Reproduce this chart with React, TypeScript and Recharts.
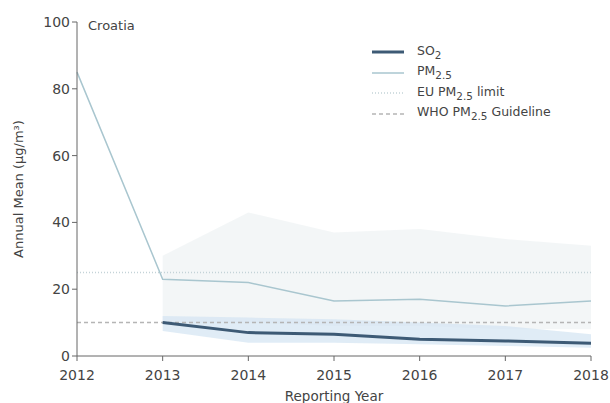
import React from 'react';
import {
  ComposedChart,
  Line,
  Area,
  XAxis,
  YAxis,
  ReferenceLine,
  Label,
} from 'recharts';

const years = [2012, 2013, 2014, 2015, 2016, 2017, 2018];
const so2 = [null, 10, 7, 6.5, 5, 4.5, 3.8];
const so2Low = [null, 7.5, 4, 4, 3.5, 3, 2.5];
const so2High = [null, 12, 11.5, 11, 10, 9, 6.5];
const pm25 = [85, 23, 22, 16.5, 17, 15, 16.5];
const pmLow = [null, 10, 10, 9, 9, 8, 8];
const pmHigh = [null, 30, 43, 37, 38, 35, 33];
const yTicks = [0, 20, 40, 60, 80, 100];
const euLimit = 25;
const whoGuideline = 10;

const data = years.map((year, i) => ({
  year,
  so2: so2[i],
  pm25: pm25[i],
  so2Band: so2Low[i] == null ? null : [so2Low[i], so2High[i]],
  pmBand: pmLow[i] == null ? null : [pmLow[i], pmHigh[i]],
}));

const font = 'DejaVu Sans, sans-serif';
const textColor = '#444';

function LegendBox() {
  const rows = [
    { label: <>SO<sub>2</sub></>, stroke: '#3d5a75', width: 3, dash: undefined },
    { label: <>PM<sub>2.5</sub></>, stroke: '#a9c6cf', width: 1.5, dash: undefined },
    { label: <>EU PM<sub>2.5</sub> limit</>, stroke: '#c4d3d8', width: 1.5, dash: '1 2' },
    { label: <>WHO PM<sub>2.5</sub> Guideline</>, stroke: '#b5b5b5', width: 1.5, dash: '4 3' },
  ];
  return (
    <div style={{ position: 'absolute', left: 370, top: 42, fontFamily: font, fontSize: 12.5, color: textColor }}>
      {rows.map((r, i) => (
        <div key={i} style={{ display: 'flex', alignItems: 'center', height: 20.5 }}>
          <svg width={36} height={10} style={{ marginRight: 11 }}>
            <line x1={2} y1={5} x2={34} y2={5} stroke={r.stroke} strokeWidth={r.width} strokeDasharray={r.dash} />
          </svg>
          <span style={{ lineHeight: '14px' }}>{r.label}</span>
        </div>
      ))}
    </div>
  );
}

export default function App() {
  return (
    <div style={{ width: 610, height: 403, background: '#fff', position: 'relative', overflow: 'hidden' }}>
      <style>{'html,body{margin:0;padding:0;overflow:hidden;}'}</style>
      <ComposedChart
        width={610}
        height={403}
        data={data}
        margin={{ top: 22, right: 19, bottom: 17, left: 21 }}
      >
        <XAxis
          dataKey="year"
          type="number"
          domain={[2012, 2018]}
          ticks={years}
          tick={{ fill: textColor, fontSize: 14, fontFamily: font, dy: 7 }}
          tickLine={{ stroke: '#666' }}
          axisLine={{ stroke: '#666' }}
          tickSize={5}
          height={30}
        >
          <Label
            value="Reporting Year"
            position="insideBottom"
            offset={-15}
            style={{ fill: textColor, fontSize: 13.5, fontFamily: font }}
          />
        </XAxis>
        <YAxis
          type="number"
          domain={[0, 100]}
          ticks={yTicks}
          tick={{ fill: textColor, fontSize: 14, fontFamily: font }}
          tickLine={{ stroke: '#666' }}
          axisLine={{ stroke: '#666' }}
          tickSize={5}
          width={56}
        >
          <Label
            value="Annual Mean (μg/m³)"
            angle={-90}
            position="insideLeft"
            dx={-8}
            style={{ textAnchor: 'middle', fill: textColor, fontSize: 13, fontFamily: font }}
          />
        </YAxis>
        <Area
          dataKey="pmBand"
          stroke="none"
          fill="#eef2f4"
          fillOpacity={0.7}
          isAnimationActive={false}
        />
        <Area
          dataKey="so2Band"
          stroke="none"
          fill="#d3e4f2"
          fillOpacity={0.7}
          isAnimationActive={false}
        />
        <ReferenceLine y={euLimit} stroke="#c4d3d8" strokeWidth={1.5} strokeDasharray="1 2" />
        <ReferenceLine y={whoGuideline} stroke="#b5b5b5" strokeWidth={1.5} strokeDasharray="4 3" />
        <Line
          dataKey="pm25"
          stroke="#a9c6cf"
          strokeWidth={1.5}
          dot={false}
          isAnimationActive={false}
        />
        <Line
          dataKey="so2"
          stroke="#3d5a75"
          strokeWidth={3}
          dot={false}
          isAnimationActive={false}
        />
        <text x={88} y={30} fill={textColor} fontSize={13} fontFamily={font}>
          Croatia
        </text>
      </ComposedChart>
      <LegendBox />
    </div>
  );
}
